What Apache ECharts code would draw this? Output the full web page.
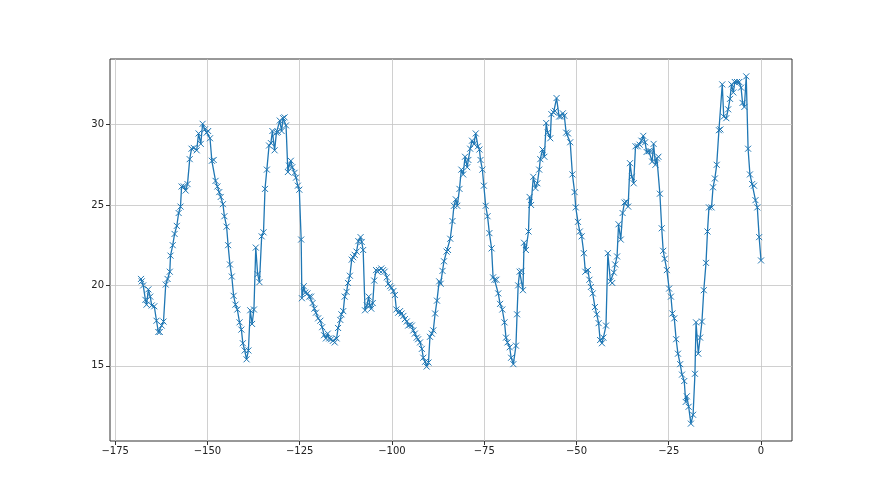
<!DOCTYPE html>
<html>
<head>
<meta charset="utf-8">
<script src="https://cdn.jsdelivr.net/npm/echarts@6/dist/echarts.min.js"></script>
<style>html,body{margin:0;padding:0;background:#fff}#c{width:880px;height:495px}</style>
</head>
<body>
<div id="c"></div>
<script>
const xTicks = [-175, -150, -125, -100, -75, -50, -25, 0];
const yTicks = [15, 20, 25, 30];
const xs = [
-168.0,-167.8,-167.4,-166.8,-166.5,-166.0,-165.5,-165.1,-164.4,-163.8,-163.3,-162.9,-162.4,-161.9,-161.3,-160.8,-160.2,-160.0,-159.4,-158.9,-158.3,-157.8,-157.3,-157.0,-156.4,-155.9,-155.4,-154.8,-154.3,-153.7,
-152.9,-152.4,-151.8,-151.3,-150.7,-150.2,-149.8,-149.3,-148.8,-148.3,-147.8,-147.3,-146.8,-146.4,-145.8,-145.4,-144.8,-144.4,-143.9,-143.4,-142.9,-142.4,-141.9,-141.3,-140.8,-140.4,-139.9,-139.4,-138.9,-138.4,-137.9,-137.4,-136.9,-136.4,-135.9,
-135.3,-134.8,-134.4,-133.9,-133.3,-132.8,-132.4,-131.8,-131.3,-130.9,-130.4,-129.9,-129.5,-129.1,-128.7,-128.2,-127.9,-127.4,-127.0,-126.4,-126.0,-125.5,-125.1,-124.6,-124.4,-123.9,-123.5,-122.9,-122.4,-121.9,-121.5,-121.0,-120.6,-120.0,-119.4,-118.9,
-118.4,-117.9,-117.4,-117.0,-116.5,-116.0,-115.5,-115.0,-114.6,-114.0,-113.7,-113.2,-112.8,-112.3,-111.9,-111.4,-110.9,-110.5,-110.1,-109.6,-109.1,-108.5,-108.2,-107.8,-107.3,-106.8,-106.3,-106.0,-105.6,-105.2,-104.8,-104.3,-103.9,-103.5,-102.9,-102.4,-102.0,-101.4,-101.0,
-100.5,-100.1,-99.6,-99.2,-98.8,-98.3,-97.8,-97.4,-96.9,-96.5,-96.0,-95.6,-95.1,-94.6,-94.2,-93.8,-93.3,-92.9,-92.4,-91.9,-91.5,-91.0,-90.6,-90.1,-89.7,-89.2,-88.8,-88.3,-87.8,-87.2,-86.8,-86.3,-85.9,-85.2,-84.8,-84.2,-83.6,
-83.2,-82.7,-82.3,-81.7,-81.2,-80.7,-80.2,-79.6,-79.3,-78.8,-78.3,-77.8,-77.3,-76.7,-76.3,-76.0,-75.5,-75.1,-74.6,-74.1,-73.6,-73.0,-72.6,-72.2,-71.7,-71.2,-70.7,-70.1,-69.5,-69.1,-68.7,-68.1,-67.7,-67.1,
-66.4,-66.1,-65.8,-65.4,-64.9,-64.5,-64.2,-63.7,-63.0,-62.7,-62.3,-61.7,-61.1,-60.6,-60.1,-59.8,-59.2,-58.7,-58.2,-57.8,-57.1,-56.8,-56.2,-55.8,-55.4,-54.7,-54.2,-53.7,-53.3,-52.8,-52.3,-51.7,-51.1,-50.5,-50.2,-49.6,-49.1,-48.6,
-48.0,-47.6,-46.9,-46.5,-46.1,-45.6,-45.0,-44.5,-44.0,-43.6,-43.1,-42.7,-42.0,-41.5,-40.8,-40.3,-39.9,-39.5,-39.0,-38.6,-38.0,-37.5,-37.0,-36.5,-36.0,-35.5,-35.0,-34.5,-34.0,-33.4,
-32.9,-32.4,-31.9,-31.4,-31.0,-30.4,-29.9,-29.5,-29.1,-28.6,-28.2,-27.8,-27.4,-26.9,-26.5,-26.1,-25.5,-24.9,-24.4,-24.0,-23.5,-23.0,-22.5,-21.9,-21.4,-20.8,-20.4,-20.1,-19.6,-19.0,-18.4,-17.9,-17.6,-17.0,-16.5,-16.0,-15.5,-14.9,-14.5,-14.1,
-13.4,-13.0,-12.5,-12.0,-11.4,-11.0,-10.5,-10.1,-9.4,-8.9,-8.4,-8.0,-7.5,-7.1,-6.5,-5.9,-5.4,-5.0,-4.5,-4.0,-3.5,-3.0,-2.4,-1.9,-1.5,-1.0,-0.5,0.0
];
const ys = [
20.4,20.25,20.0,19.1,18.8,19.75,19.3,18.75,18.7,17.8,17.1,17.1,17.5,17.75,20.05,20.4,20.85,21.85,22.5,23.2,23.7,24.5,24.9,26.15,26.15,25.9,26.3,27.85,28.5,28.55,
28.4,29.45,28.8,30.05,29.7,29.5,29.6,29.15,27.75,27.8,26.5,26.15,25.8,25.5,25.05,24.3,23.65,22.5,21.3,20.55,19.35,18.8,18.5,17.7,17.25,16.4,15.95,15.4,15.95,18.45,17.6,18.5,22.35,20.7,20.2,
23.05,23.3,26.0,27.2,28.7,28.85,29.6,28.4,29.5,29.55,30.25,29.6,30.4,30.45,29.95,27.05,27.45,27.75,27.35,27.0,26.7,26.2,25.95,22.85,19.2,19.95,19.55,19.5,19.3,19.3,18.9,18.55,18.3,17.95,17.8,17.4,
16.9,16.7,17.0,16.7,16.65,16.55,16.45,16.7,17.35,17.85,18.2,18.4,19.3,19.6,20.15,20.6,21.6,21.75,21.9,22.1,22.75,23.0,22.7,22.2,18.45,18.75,19.3,18.75,18.55,18.9,20.3,20.95,20.85,20.95,21.05,20.95,20.85,20.5,20.1,
19.95,19.85,19.65,19.4,18.5,18.3,18.4,18.25,18.1,17.9,17.75,17.5,17.55,17.5,17.2,17.0,16.75,16.65,16.45,16.05,15.5,15.25,14.95,15.2,16.8,17.0,17.2,18.25,19.05,20.25,20.1,20.9,21.5,22.1,22.2,22.9,24.0,
24.95,25.35,24.95,26.0,27.2,26.9,28.0,27.35,27.8,28.5,29.0,28.8,29.45,28.65,28.45,27.8,27.2,26.2,24.95,24.3,23.25,22.3,20.5,20.35,20.35,19.5,18.85,18.5,17.7,16.75,16.45,16.15,15.5,15.1,
16.25,18.2,20.0,20.85,20.9,19.7,22.65,22.2,23.35,25.5,25.0,26.75,26.05,26.35,27.2,27.85,28.45,28.0,30.1,29.5,29.15,30.65,30.75,30.85,31.65,30.5,30.5,30.7,30.55,29.5,29.45,28.9,26.9,25.8,24.85,23.95,23.35,23.05,
22.0,20.85,20.95,20.35,19.9,19.5,18.65,18.2,17.65,16.6,16.4,16.75,17.5,22.0,20.25,20.15,20.8,21.3,21.8,23.8,22.85,24.5,25.15,25.2,24.9,27.6,26.75,26.35,28.65,28.65,
28.75,29.0,29.3,28.9,28.3,28.35,28.35,27.7,28.8,27.5,27.9,28.0,25.7,23.55,22.15,21.65,20.95,19.8,19.3,18.25,17.95,16.65,15.75,15.1,14.45,14.05,12.75,13.1,12.45,11.4,11.95,14.5,17.7,15.75,16.75,17.75,19.7,21.4,23.35,24.85,
24.85,26.1,26.65,27.5,29.65,29.7,32.5,30.5,30.4,30.95,31.6,32.5,32.0,32.65,32.65,32.65,32.3,31.35,31.1,33.0,28.5,26.9,26.3,26.2,25.3,24.85,23.0,21.55
];

const points = xs.map((x, i) => [x, ys[i]]);
const xMin = -176.4, xMax = 8.4;
const yMin = 10.32, yMax = 34.08;
const fmt = v => String(v).replace('-', '\u2212');

const chart = echarts.init(document.getElementById('c'), null, {renderer: 'canvas'});
chart.setOption({
  animation: false,
  backgroundColor: '#ffffff',
  grid: {left: 110, right: 88, top: 59, bottom: 54, show: true, borderColor: '#333', borderWidth: 1, backgroundColor: 'transparent'},
  xAxis: {
    type: 'value', min: xMin, max: xMax, position: 'bottom',
    axisLine: {show: false, onZero: false},
    axisTick: {show: true, inside: false, length: 4, lineStyle: {color: '#333', width: 1}, customValues: xTicks},
    axisLabel: {customValues: xTicks, formatter: fmt, color: '#222', fontFamily: 'DejaVu Sans', fontSize: 10, margin: 5},
    splitLine: {show: true, lineStyle: {color: '#c4c4c4', width: 0.8}}
  },
  yAxis: {
    type: 'value', min: yMin, max: yMax, position: 'left',
    axisLine: {show: false, onZero: false},
    axisTick: {show: true, inside: false, length: 4, lineStyle: {color: '#333', width: 1}, customValues: yTicks},
    axisLabel: {customValues: yTicks, formatter: fmt, color: '#222', fontFamily: 'DejaVu Sans', fontSize: 10, margin: 6},
    splitLine: {show: true, lineStyle: {color: '#c4c4c4', width: 0.8}}
  },
  series: [{
    type: 'line',
    data: points,
    showAllSymbol: true,
    symbol: 'path://M0,0L10,10M10,0L0,10',
    symbolSize: 6,
    symbolKeepAspect: true,
    color: '#1f77b4',
    lineStyle: {color: '#1f77b4', width: 1.3},
    itemStyle: {color: 'rgba(0,0,0,0)', borderColor: '#1f77b4', borderWidth: 1},
    emphasis: {disabled: true}
  }]
});
</script>
</body>
</html>
